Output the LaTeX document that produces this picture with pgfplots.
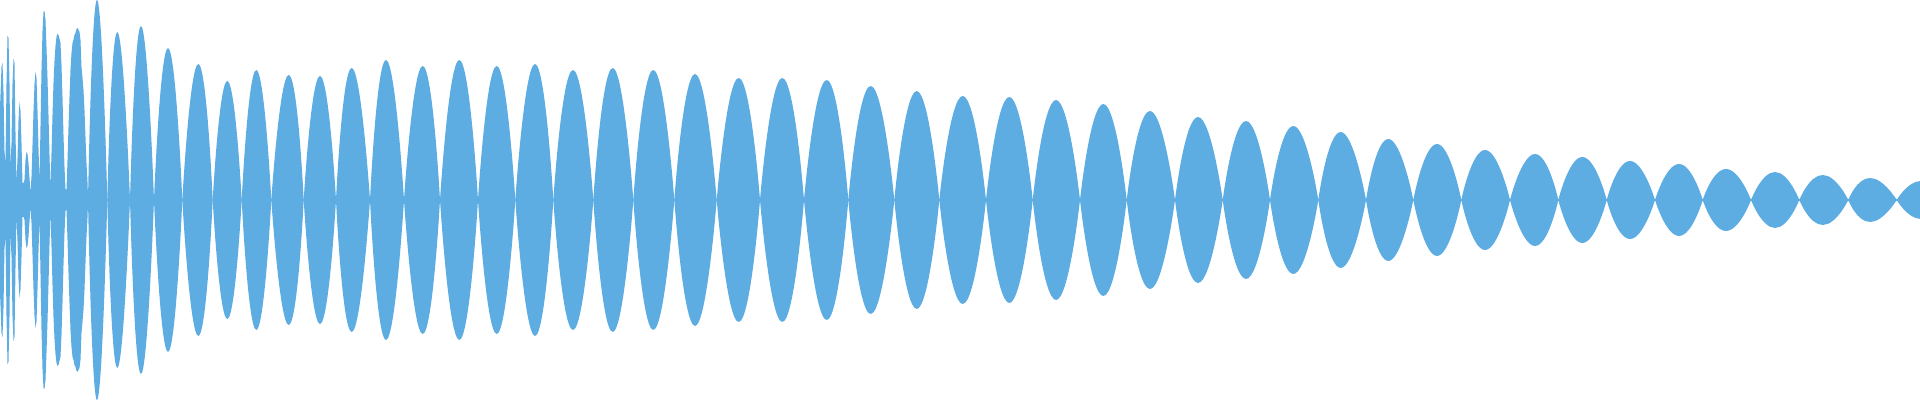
\documentclass[border=0pt]{standalone}
\usepackage{pgfplots}
\pgfplotsset{compat=1.18}
\usepackage{pgfplotstable}
\definecolor{wave}{RGB}{93,172,226}

% irregular start of the waveform: x (px), half height (px)
\pgfplotstableread{
x h
0 92
1.5 133
2.5 137
3.5 108
4.5 49
5.5 37
6.5 116
7.5 164
8.5 162
9.5 117
10.5 33
11.5 57
12.5 116
13.5 141
14.5 137
15.5 68
16.5 17
17.5 41
18.5 79
19.5 98
20.5 89
21.5 57
22.5 17
23.5 17
24.5 20
25.5 40
26.5 48
27.5 46
28.5 37
29.5 22
30.5 7
31.5 23
32.5 55
33.5 89
34.5 116
35.5 128
36.5 122
37.5 90
38.5 52
39.5 18
40.5 74
41.5 130
42.5 169
43.5 188
44.5 189
45.5 180
46.5 153
47.5 122
48.5 85
49.5 45
50.5 12
51.5 47
52.5 85
53.5 117
54.5 139
55.5 154
56.5 163
57.5 166
58.5 165
59.5 161
60.5 157
61.5 135
62.5 103
63.5 65
64.5 33
65.5 11
66.5 10
67.5 40
68.5 73
69.5 103
70.5 130
71.5 147
72.5 157
73.5 160
74.5 165
75.5 167
76.5 171
77.5 172
78.5 170
79.5 168
80.5 160
81.5 133
82.5 122
83.5 110
84.5 90
85.5 63
86.5 37
87.5 18
88 3
}\headtable

% one lobe: left node, peak x, right node, half height
\newcommand{\lobe}[4]{%
  \addplot[wave, fill=wave, draw=none, smooth, tension=1] coordinates {(#1,0) (#2,#4) (#3,0)} \closedcycle;
  \addplot[wave, fill=wave, draw=none, smooth, tension=1] coordinates {(#1,0) (#2,-#4) (#3,0)} \closedcycle;}

\begin{document}
\begin{tikzpicture}
\begin{axis}[
  width=19.2cm, height=4cm, scale only axis,
  xmin=0, xmax=1920, ymin=-200, ymax=200,
  hide axis, clip=true
]
\addplot[wave, fill=wave, draw=none] table[x=x, y=h] {\headtable} \closedcycle;
\addplot[wave, fill=wave, draw=none] table[x=x, y expr=-\thisrow{h}] {\headtable} \closedcycle;
\addplot[wave, line width=0.4pt] coordinates {(0,0) (1920,0)};
\lobe{88}{97}{107.3}{200}
\lobe{107.3}{117.3}{130}{168}
\lobe{130}{141}{154}{174}
\lobe{154}{168}{182.3}{152}
\lobe{182.3}{198.3}{212.7}{136}
\lobe{212.7}{227.3}{241.7}{119}
\lobe{241.7}{256.3}{271.3}{130}
\lobe{271.3}{288.7}{303.7}{125}
\lobe{303.7}{320}{336}{124}
\lobe{336}{351.7}{370}{132}
\lobe{370}{386}{404}{140}
\lobe{404}{422.7}{440}{134}
\lobe{440}{459.3}{478}{140}
\lobe{478}{496.7}{515.3}{134}
\lobe{515.3}{535}{553.3}{136}
\lobe{553.3}{573}{593.3}{130}
\lobe{593.3}{612.7}{633.3}{132}
\lobe{633.3}{653.3}{674.3}{130}
\lobe{674.3}{695}{716.7}{126}
\lobe{716.7}{738.7}{760}{122}
\lobe{760}{782.3}{804}{122}
\lobe{804}{826.7}{848.3}{120}
\lobe{848.3}{870.7}{894.3}{114}
\lobe{894.3}{916.7}{939.3}{109}
\lobe{939.3}{962.7}{986}{104}
\lobe{986}{1009.3}{1032.7}{103}
\lobe{1032.7}{1056}{1080}{100}
\lobe{1080}{1103.3}{1126.7}{96}
\lobe{1126.7}{1150}{1175}{89}
\lobe{1175}{1198}{1222.7}{83}
\lobe{1222.7}{1246}{1270}{79}
\lobe{1270}{1293.3}{1318.3}{74}
\lobe{1318.3}{1340.7}{1366}{68}
\lobe{1366}{1388.3}{1413.3}{61}
\lobe{1413.3}{1437}{1461.3}{56}
\lobe{1461.3}{1485}{1510}{50}
\lobe{1510}{1535}{1558.3}{46}
\lobe{1558.3}{1582.3}{1606.7}{43}
\lobe{1606.7}{1630}{1655}{39}
\lobe{1655}{1679}{1702.7}{36}
\lobe{1702.7}{1726}{1751}{31}
\lobe{1751}{1775}{1799.3}{28}
\lobe{1799.3}{1822.7}{1848.3}{25}
\lobe{1848.3}{1870}{1896.7}{22}
\lobe{1896.7}{1921}{1945}{19}
\end{axis}
\pgfresetboundingbox
\path (current axis.south west) rectangle (current axis.north east);
\end{tikzpicture}
\end{document}
